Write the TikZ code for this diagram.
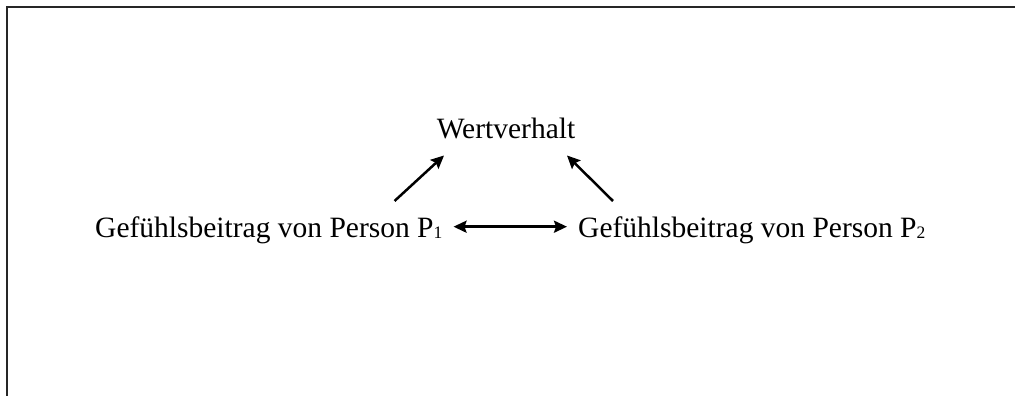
\documentclass[tikz,border=0pt]{standalone}
\usepackage{fontspec}
\setmainfont{Liberation Serif}
\usetikzlibrary{arrows.meta,calc}
\newcommand{\subsc}[1]{{\fontsize{17.5}{17.5}\selectfont\raisebox{-1pt}{#1}}}
\tikzset{
  lbl/.style={inner sep=0pt, font=\fontsize{29.5}{34}\selectfont},
  arr/.style={line width=2.5pt, -{Stealth[length=13pt,width=12pt,inset=2pt]}},
  darr/.style={line width=2.5pt, {Stealth[length=13pt,width=12pt,inset=2pt]}-{Stealth[length=13pt,width=12pt,inset=2pt]}},
  frame/.style={line width=2pt, draw=black!85}
}
\begin{document}
\begin{tikzpicture}[x=1pt,y=1pt]
\useasboundingbox (0,0) rectangle (1015,396);
\draw[frame] (7,0) -- (7,389) -- (1015,389);
\node[lbl, anchor=base] (w) at (506,257.5) {Wertverhalt};
\node[lbl, anchor=base west] (p1) at (95,158.5) {Gefühlsbeitrag von Person P\subsc{1}};
\node[lbl, anchor=base west] (p2) at (578,158.5) {Gefühlsbeitrag von Person P\subsc{2}};
\draw[darr] ($(p1.base east)+(11,10.8)$) -- ($(p2.base west)+(-11,10.8)$);
\draw[arr] ($(p1.base east)+(-48,36.5)$) -- ($(w.base)+(-62,-17)$);
\draw[arr] ($(p2.base west)+(35,36.5)$) -- ($(w.base)+(61,-17)$);
\end{tikzpicture}
\end{document}
